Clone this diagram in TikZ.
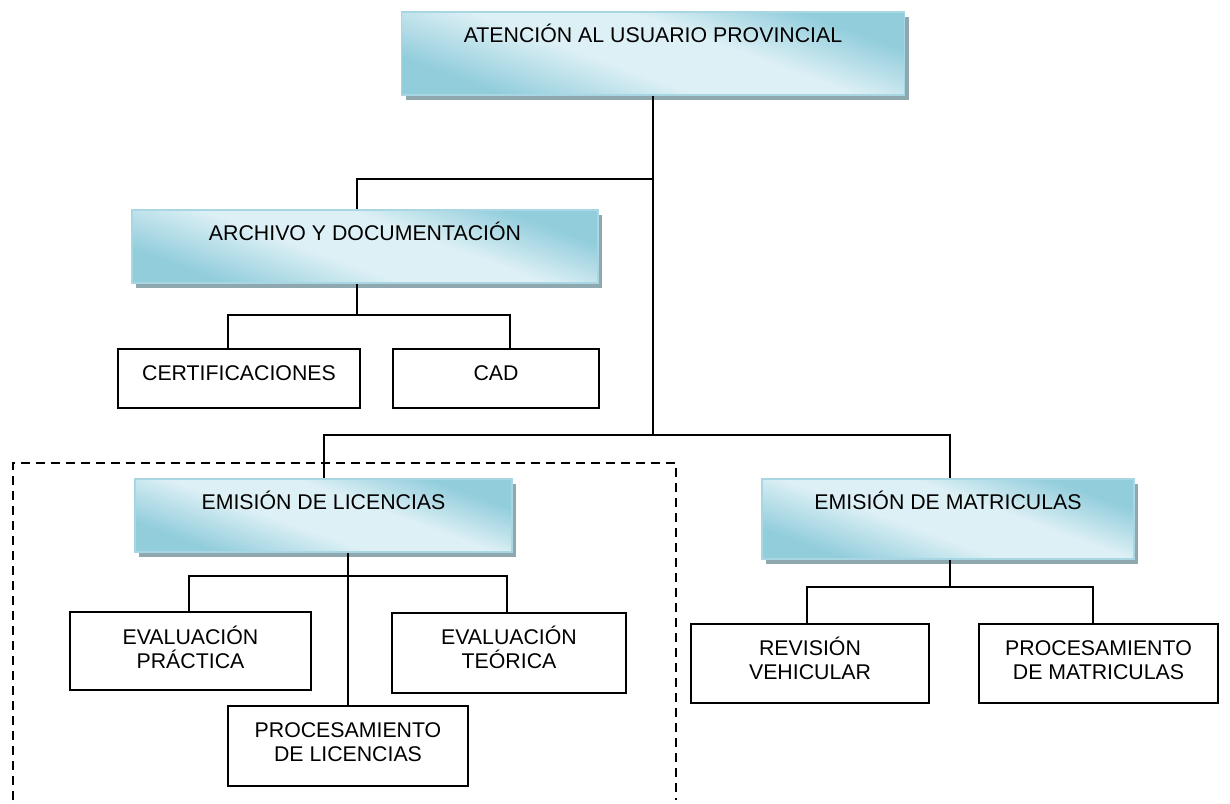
\documentclass[tikz,border=0pt]{standalone}
\usepackage{fontspec}
\setmainfont{Liberation Sans}
\usetikzlibrary{shadows}
\definecolor{bluedark}{RGB}{146,205,220}
\definecolor{bluelight}{RGB}{221,240,245}
\definecolor{blueedge}{RGB}{168,214,227}
\definecolor{shadowc}{RGB}{143,168,176}
% diagonal sheen of the department boxes
\pgfdeclareverticalshading{sheen}{100bp}{
  color(0bp)=(bluedark); color(27bp)=(bluedark); color(44bp)=(bluelight);
  color(58bp)=(bluelight); color(73bp)=(bluedark); color(100bp)=(bluedark)}
\begin{document}
\begin{tikzpicture}[x=1pt,y=-1pt,
  font=\fontsize{21.3}{24}\selectfont,
  bluebox/.style={draw=blueedge, line width=1.1pt,
    shading=sheen, shading angle=-20,
    general shadow={fill=shadowc, shadow xshift=4pt, shadow yshift=-5pt},
    inner xsep=0pt, inner ysep=0pt, text height=30pt},
  whitebox/.style={draw=black, line width=1.8pt, fill=white, align=center,
    inner sep=0pt},
  conn/.style={draw=black, line width=2pt},
  groupframe/.style={draw=black, line width=2.2pt, dash pattern=on 9pt off 6pt}]

\useasboundingbox (0,0) rectangle (1230,803);

% group frame around the licence section
\draw[groupframe] (13,800) -- (13,463) -- (676,463) -- (676,800);

% department boxes
\node[bluebox, minimum width=503pt, text depth=53pt] (top) at (653,53.5)
  {ATENCIÓN AL USUARIO PROVINCIAL};
\node[bluebox, minimum width=466pt, text depth=43pt] (arch) at (365,246.5)
  {ARCHIVO Y DOCUMENTACIÓN};
\node[bluebox, minimum width=377pt, text depth=43pt] (lic) at (323.5,515.5)
  {EMISIÓN DE LICENCIAS};
\node[bluebox, minimum width=372pt, text depth=50pt] (mat) at (948,519)
  {EMISIÓN DE MATRICULAS};

% units (text height runs to the last baseline)
\node[whitebox, minimum width=242pt, text height=31.6pt, text depth=27.4pt] (cert) at (239,378.5)
  {CERTIFICACIONES};
\node[whitebox, minimum width=206pt, text height=31.6pt, text depth=27.4pt] (cad) at (496,378.5)
  {CAD};
\node[whitebox, minimum width=241pt, text height=56.6pt, text depth=21.4pt] (evp) at (190.5,651)
  {EVALUACIÓN\\PRÁCTICA};
\node[whitebox, minimum width=234pt, text height=55.6pt, text depth=24.4pt] (evt) at (509,653)
  {EVALUACIÓN\\TEÓRICA};
\node[whitebox, minimum width=240pt, text height=55.6pt, text depth=24.4pt] (plic) at (348,746)
  {PROCESAMIENTO\\DE LICENCIAS};
\node[whitebox, minimum width=238pt, text height=55.6pt, text depth=23.4pt] (rev) at (810,663.5)
  {REVISIÓN\\VEHICULAR};
\node[whitebox, minimum width=239pt, text height=55.6pt, text depth=23.4pt] (pmat) at (1098.5,663.5)
  {PROCESAMIENTO\\DE MATRICULAS};

% junctions
\coordinate (j1) at (653,179);
\coordinate (j2) at (653,435);
\coordinate (ja) at (357,315);
\coordinate (jl) at (348,576);
\coordinate (jm) at (950,587);

% connectors
\draw[conn] (top.south) -- (j2);
\draw[conn] (j1) -| ([xshift=-8pt]arch.north);
\draw[conn] (lic.north) |- (j2) -| ([xshift=2pt]mat.north);

\draw[conn] ([xshift=-8pt]arch.south) -- (ja);
\draw[conn] ([xshift=-11pt]cert.north) |- (ja) -| ([xshift=14pt]cad.north);

\draw[conn] (plic.north) -- (plic.north |- lic.south);
\draw[conn] ([xshift=-2pt]evp.north) |- (jl) -| ([xshift=-2pt]evt.north);

\draw[conn] ([xshift=2pt]mat.south) -- (jm);
\draw[conn] ([xshift=-3pt]rev.north) |- (jm) -| ([xshift=-6pt]pmat.north);
\end{tikzpicture}
\end{document}
